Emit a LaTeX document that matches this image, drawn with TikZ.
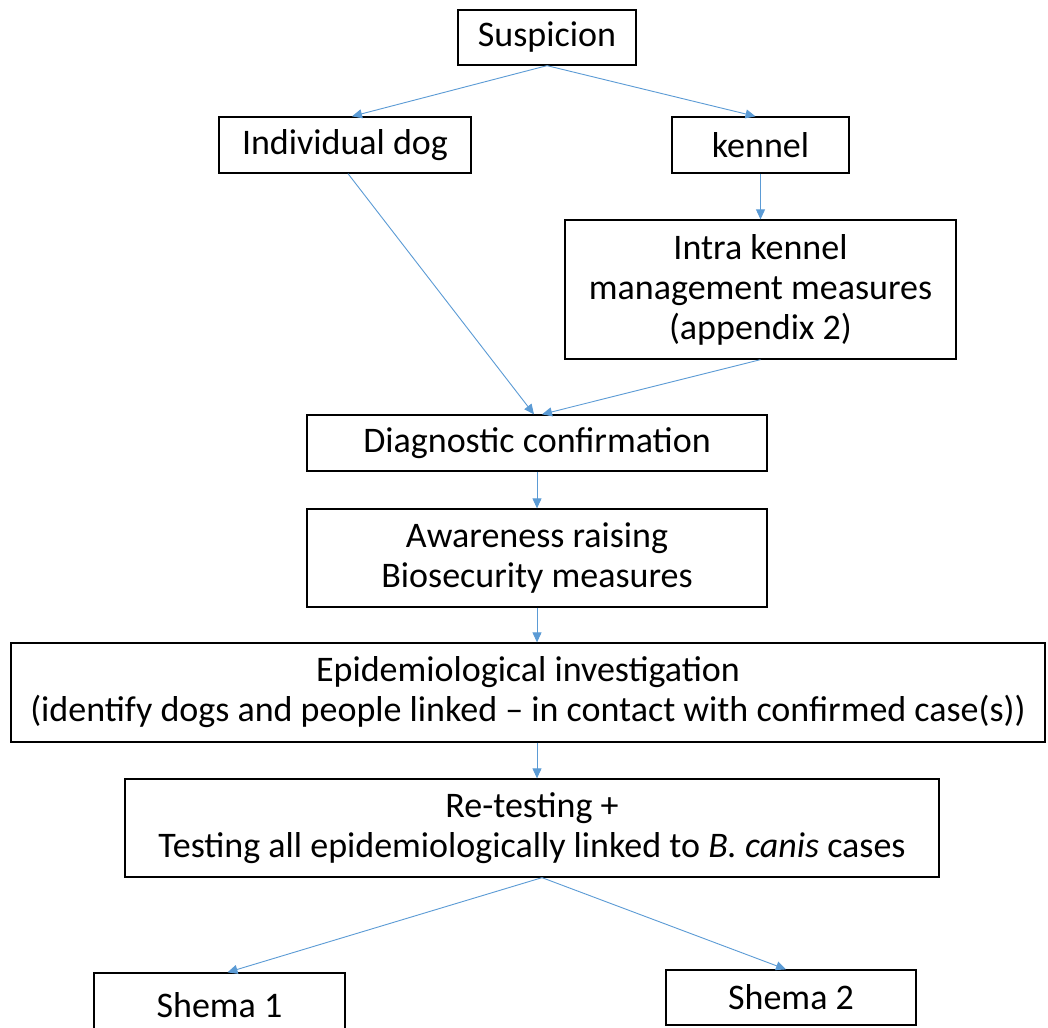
\documentclass[tikz,border=0pt]{standalone}
\usepackage{fontspec}
\setmainfont{Carlito}
\usetikzlibrary{arrows.meta,calc}
\definecolor{arrowblue}{RGB}{91,155,213}
\begin{document}
\begin{tikzpicture}[x=1pt,y=-1pt,
  box/.style={draw=black, line width=1.3pt, align=center, inner sep=0pt,
    font=\fontsize{36}{40}\selectfont},
  arr/.style={draw=arrowblue, line width=0.9pt,
    -{Triangle[length=10pt,width=9pt]}, fill=none}]
\useasboundingbox (0,0) rectangle (1048,1027);
\clip (0,0) rectangle (1048,1027);
\fill[white] (0,0) rectangle (1048,1027);

\node[box, minimum width=178pt, minimum height=55pt] (susp) at (547,37.5) {Suspicion};
\node[box, minimum width=252pt, minimum height=56pt] (dog) at (345,145) {Individual dog};
\node[box, minimum width=177pt, minimum height=56pt] (kennel) at (760.5,145) {kennel};
\node[box, minimum width=391pt, minimum height=139pt] (intra) at (760.5,289.5)
  {Intra kennel\\management measures\\(appendix 2)};
\node[box, minimum width=460pt, minimum height=56pt] (diag) at (537,443) {Diagnostic confirmation};
\node[box, minimum width=460pt, minimum height=98pt] (aware) at (537,558)
  {Awareness raising\\Biosecurity measures};
\node[box, minimum width=1034pt, minimum height=99pt] (epi) at (528,692.5)
  {Epidemiological investigation\\(identify dogs and people linked -- in contact with confirmed case(s))};
\node[box, minimum width=814pt, minimum height=98pt] (retest) at (532,828)
  {Re-testing +\\Testing all epidemiologically linked to \textit{B. canis} cases};
\node[box, minimum width=251pt, minimum height=64pt] (shema1) at (219.5,1005) {Shema 1};
\node[box, minimum width=250pt, minimum height=55pt] (shema2) at (791,997.5) {Shema 2};

\draw[arr] (susp.south) -- ($(dog.north)+(7,0)$);
\draw[arr] (susp.south) -- ($(kennel.north)+(-5,0)$);
\draw[arr] (kennel.south) -- (intra.north);
\draw[arr] ($(dog.south)+(3,0)$) -- ($(diag.north)+(-3,0)$);
\draw[arr] (intra.south) -- ($(diag.north)+(5,0)$);
\draw[arr] (diag.south) -- (aware.north);
\draw[arr] (aware.south) -- (aware.south |- epi.north);
\draw[arr] (aware.south |- epi.south) -- (aware.south |- retest.north);
\draw[arr] ($(retest.south)+(10,0)$) -- ($(shema1.north)+(8,0)$);
\draw[arr] ($(retest.south)+(10,0)$) -- ($(shema2.north)+(-5,0)$);
\end{tikzpicture}
\end{document}
